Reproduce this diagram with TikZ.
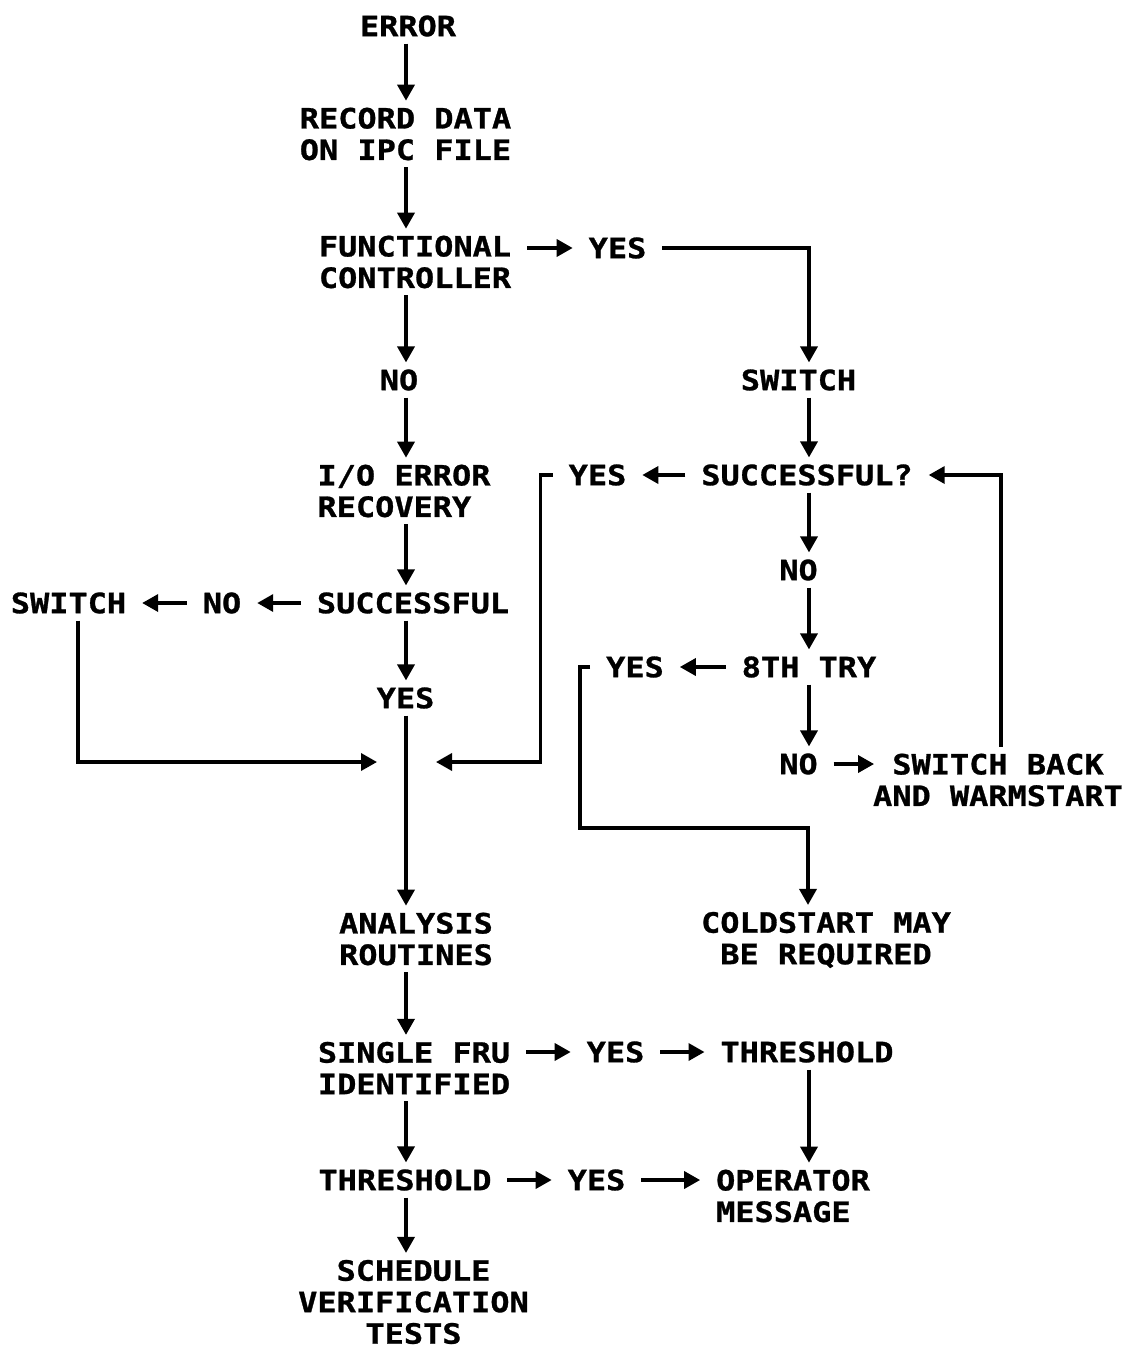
\documentclass[tikz,border=0pt]{standalone}
\usepackage{fontspec}
\usetikzlibrary{arrows.meta}
\newfontfamily\plotfont[FakeStretch=1.14,BoldFeatures={FakeBold=1}]{DejaVu Sans Mono}
\def\xmain{406}
\def\xright{809}
\def\xloop{1001}

\begin{document}
\begin{tikzpicture}[x=1pt,y=-1pt,line width=3.5pt,
  lbl/.style={font=\fontsize{28}{31.5}\selectfont\plotfont\bfseries,inner sep=0pt,outer xsep=16pt,outer ysep=7pt,align=center},
  flow/.style={-{Triangle[length=16pt,width=17pt]}}]
  \useasboundingbox (0,0) rectangle (1128,1350);
  \coordinate (mainx) at (\xmain,0);
  \coordinate (rightx) at (\xright,0);
  \coordinate (loopx) at (\xloop,0);
  \coordinate (jl) at (377,762);
  \coordinate (jr) at (436,762);
  \coordinate (coldbend) at (808,828);
  % main column
  \node[lbl] (err) at (408,26) {ERROR};
  \node[lbl] (rec) at (405.5,134) {RECORD DATA\\ON IPC FILE};
  \node[lbl] (func) at (415,262) {FUNCTIONAL\\CONTROLLER};
  \node[lbl] (noA) at (399,380) {NO};
  \node[lbl,align=left] (io) at (404,491) {I/O ERROR\\RECOVERY};
  \node[lbl] (succL) at (413,603) {SUCCESSFUL};
  \node[lbl] (yesM) at (405.5,698) {YES};
  \node[lbl] (anal) at (416,939) {ANALYSIS\\ROUTINES};
  \node[lbl] (single) at (414,1068) {SINGLE FRU\\IDENTIFIED};
  \node[lbl] (thrL) at (405,1180) {THRESHOLD};
  \node[lbl] (sched) at (413.5,1302) {SCHEDULE\\VERIFICATION\\TESTS};
  % side branches
  \node[lbl] (yesA) at (617.5,248) {YES};
  \node[lbl] (noL) at (222,603) {NO};
  \node[lbl] (swL) at (68.5,603) {SWITCH};
  \node[lbl] (yesS) at (615.5,1052) {YES};
  \node[lbl] (thrR) at (807,1052) {THRESHOLD};
  \node[lbl] (yesT) at (596.5,1180) {YES};
  \node[lbl,align=left] (oper) at (793,1196) {OPERATOR\\MESSAGE};
  % right column
  \node[lbl] (swA) at (798.5,380) {SWITCH};
  \node[lbl] (succR) at (807,475) {SUCCESSFUL?};
  \node[lbl] (yesR) at (597.5,475) {YES};
  \node[lbl] (noR) at (798.5,570) {NO};
  \node[lbl] (tryeight) at (809,667) {8TH TRY};
  \node[lbl] (yesTry) at (635,667) {YES};
  \node[lbl] (noTry) at (798.5,764) {NO};
  \node[lbl] (swb) at (998,780) {SWITCH BACK\\AND WARMSTART};
  \node[lbl] (cold) at (826,940) {COLDSTART MAY\\BE REQUIRED};

  \foreach \a/\b in {err/rec,rec/func,func/noA,noA/io,io/succL,succL/yesM,yesM/anal,anal/single,single/thrL,thrL/sched}
    \draw[flow] (\a.south -| mainx) -- (\b.north -| mainx);
  \foreach \a/\b in {swA/succR,succR/noR,noR/tryeight,tryeight/noTry,thrR/oper}
    \draw[flow] (\a.south -| rightx) -- (\b.north -| rightx);
  \draw[flow] (func.east |- yesA.west) -- (yesA.west);
  \draw[flow] (yesA.east) -| (swA.north -| rightx);
  \draw[flow] (succL.west) -- (noL.east);
  \draw[flow] (noL.west) -- (swL.east);
  \draw[flow] ([xshift=9.5pt]swL.south) |- (jl);
  \draw[flow] (succR.west) -- (yesR.east);
  \draw[flow] (yesR.west) -- ++(-12,0) |- (jr);
  \draw[flow] (tryeight.west) -- (yesTry.east);
  \draw[flow] (yesTry.west) -- ++(-10,0) |- (coldbend) -- (cold.north -| coldbend);
  \draw[flow] (noTry.east) -- ([xshift=17pt]swb.west |- noTry.east);
  \draw[flow] (swb.north -| loopx) |- (succR.east); % loop back to retry
  \draw[flow] (single.east |- yesS.west) -- (yesS.west);
  \draw[flow] (yesS.east) -- (thrR.west);
  \draw[flow] (thrL.east) -- (yesT.west);
  \draw[flow] (yesT.east) -- (oper.west |- yesT.east);
\end{tikzpicture}
\end{document}
